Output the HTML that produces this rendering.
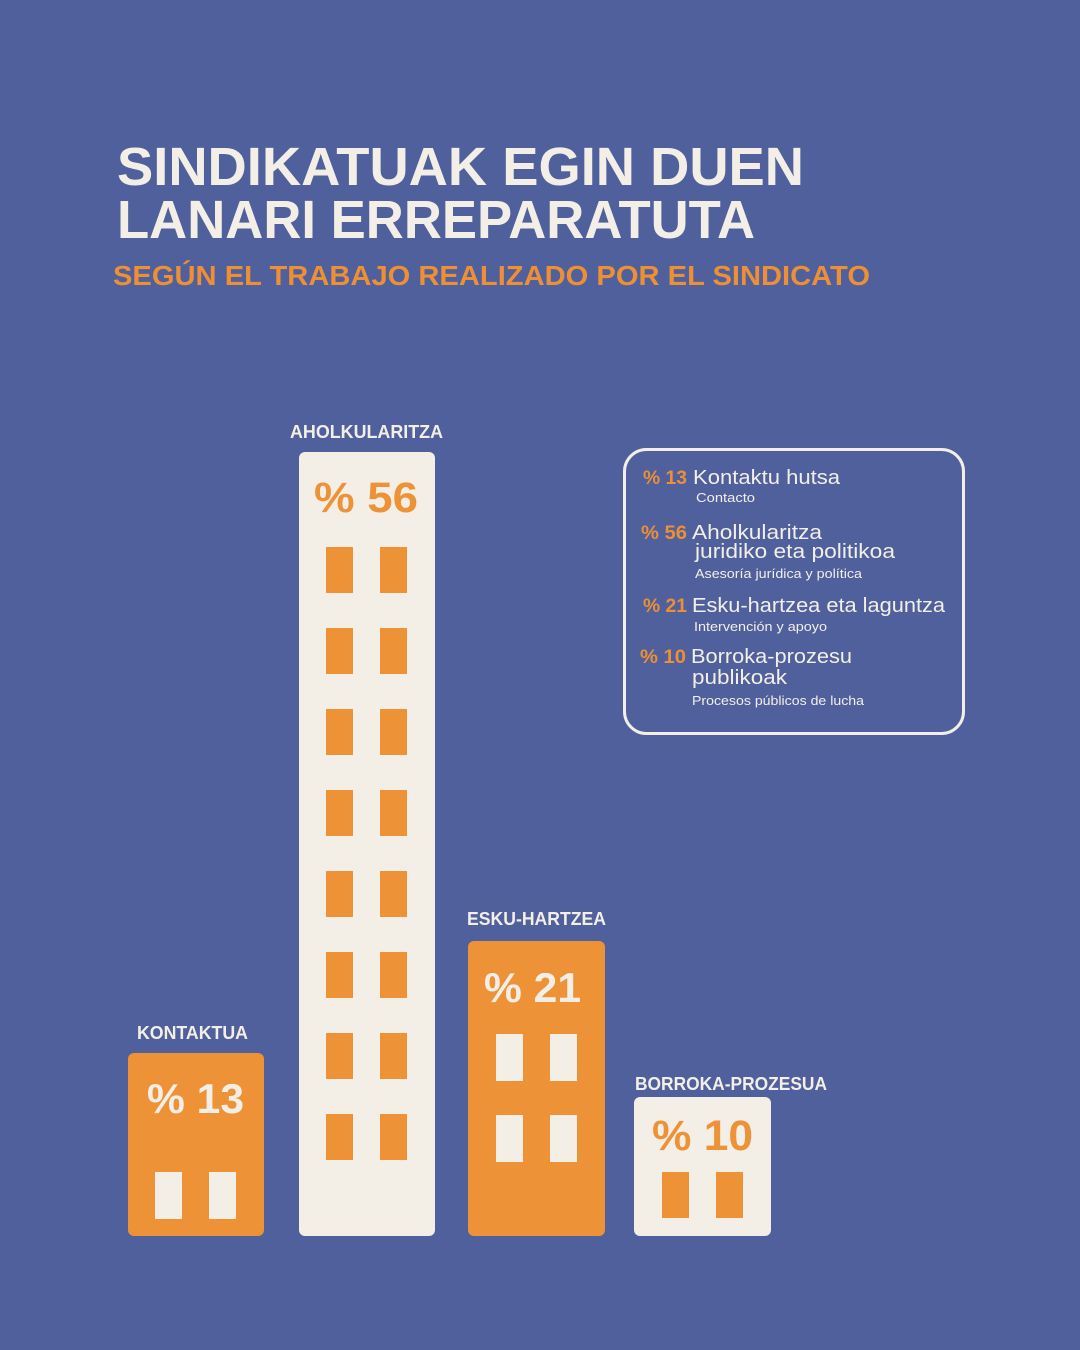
<!DOCTYPE html>
<html>
<head>
<meta charset="utf-8">
<style>
html,body{margin:0;padding:0;background:#4f609d;}
svg{display:block;}
text{font-family:"Liberation Sans",Arial,sans-serif;}
</style>
</head>
<body>
<svg width="1080" height="1350" viewBox="0 0 1080 1350" xmlns="http://www.w3.org/2000/svg">
  <rect x="0" y="0" width="1080" height="1350" fill="#4f609d"/>

  <!-- Title -->
  <text x="117" y="185" font-size="54" font-weight="bold" fill="#f3efe6" textLength="687" lengthAdjust="spacingAndGlyphs">SINDIKATUAK EGIN DUEN</text>
  <text x="117" y="238" font-size="54" font-weight="bold" fill="#f3efe6" textLength="638" lengthAdjust="spacingAndGlyphs">LANARI ERREPARATUTA</text>
  <text x="113" y="285" font-size="28" font-weight="bold" fill="#ec8f35" textLength="757" lengthAdjust="spacingAndGlyphs">SEGÚN EL TRABAJO REALIZADO POR EL SINDICATO</text>

  <!-- Bar labels -->
  <text x="290" y="438" font-size="18" font-weight="bold" fill="#f3efe6" textLength="153" lengthAdjust="spacingAndGlyphs">AHOLKULARITZA</text>
  <text x="467" y="925" font-size="18" font-weight="bold" fill="#f3efe6" textLength="139" lengthAdjust="spacingAndGlyphs">ESKU-HARTZEA</text>
  <text x="137" y="1039" font-size="18" font-weight="bold" fill="#f3efe6" textLength="111" lengthAdjust="spacingAndGlyphs">KONTAKTUA</text>
  <text x="635" y="1090" font-size="18" font-weight="bold" fill="#f3efe6" textLength="192" lengthAdjust="spacingAndGlyphs">BORROKA-PROZESUA</text>

  <!-- Kontaktua bar -->
  <rect x="128" y="1053" width="136" height="183" rx="6" fill="#ee9238"/>
  <text x="147" y="1113" font-size="42" font-weight="bold" fill="#f3efe6" textLength="97" lengthAdjust="spacingAndGlyphs">% 13</text>
  <rect x="155" y="1172" width="27" height="47" fill="#f3efe6"/>
  <rect x="209" y="1172" width="27" height="47" fill="#f3efe6"/>

  <!-- Aholkularitza bar -->
  <rect x="299" y="452" width="136" height="784" rx="6" fill="#f3efe6"/>
  <text x="314" y="512" font-size="43" font-weight="bold" fill="#ee9238" textLength="104" lengthAdjust="spacingAndGlyphs">% 56</text>
  <g fill="#ee9238">
    <rect x="326" y="547" width="27" height="46"/><rect x="380" y="547" width="27" height="46"/>
    <rect x="326" y="628" width="27" height="46"/><rect x="380" y="628" width="27" height="46"/>
    <rect x="326" y="709" width="27" height="46"/><rect x="380" y="709" width="27" height="46"/>
    <rect x="326" y="790" width="27" height="46"/><rect x="380" y="790" width="27" height="46"/>
    <rect x="326" y="871" width="27" height="46"/><rect x="380" y="871" width="27" height="46"/>
    <rect x="326" y="952" width="27" height="46"/><rect x="380" y="952" width="27" height="46"/>
    <rect x="326" y="1033" width="27" height="46"/><rect x="380" y="1033" width="27" height="46"/>
    <rect x="326" y="1114" width="27" height="46"/><rect x="380" y="1114" width="27" height="46"/>
  </g>

  <!-- Esku-hartzea bar -->
  <rect x="468" y="941" width="137" height="295" rx="6" fill="#ee9238"/>
  <text x="484" y="1002" font-size="42" font-weight="bold" fill="#f3efe6" textLength="97" lengthAdjust="spacingAndGlyphs">% 21</text>
  <rect x="496" y="1034" width="27" height="47" fill="#f3efe6"/>
  <rect x="550" y="1034" width="27" height="47" fill="#f3efe6"/>
  <rect x="496" y="1115" width="27" height="47" fill="#f3efe6"/>
  <rect x="550" y="1115" width="27" height="47" fill="#f3efe6"/>

  <!-- Borroka bar -->
  <rect x="634" y="1097" width="137" height="139" rx="6" fill="#f3efe6"/>
  <text x="652" y="1150" font-size="43" font-weight="bold" fill="#ee9238" textLength="101" lengthAdjust="spacingAndGlyphs">% 10</text>
  <rect x="662" y="1172" width="27" height="46" fill="#ee9238"/>
  <rect x="716" y="1172" width="27" height="46" fill="#ee9238"/>

  <!-- Legend box -->
  <rect x="624.5" y="449.5" width="339" height="284" rx="22" fill="none" stroke="#f3efe6" stroke-width="3"/>

  <text x="643" y="484" font-size="19" font-weight="bold" fill="#ec8f35" textLength="44" lengthAdjust="spacingAndGlyphs">% 13</text>
  <text x="693" y="484" font-size="20" fill="#f3efe6" textLength="147" lengthAdjust="spacingAndGlyphs">Kontaktu hutsa</text>
  <text x="696" y="502" font-size="13" fill="#f3efe6" textLength="59" lengthAdjust="spacingAndGlyphs">Contacto</text>

  <text x="641" y="539" font-size="19" font-weight="bold" fill="#ec8f35" textLength="46" lengthAdjust="spacingAndGlyphs">% 56</text>
  <text x="692" y="539" font-size="20" fill="#f3efe6" textLength="130" lengthAdjust="spacingAndGlyphs">Aholkularitza</text>
  <text x="695" y="558" font-size="20" fill="#f3efe6" textLength="200" lengthAdjust="spacingAndGlyphs">juridiko eta politikoa</text>
  <text x="695" y="578" font-size="13" fill="#f3efe6" textLength="167" lengthAdjust="spacingAndGlyphs">Asesoría jurídica y política</text>

  <text x="643" y="612" font-size="19" font-weight="bold" fill="#ec8f35" textLength="44" lengthAdjust="spacingAndGlyphs">% 21</text>
  <text x="692" y="612" font-size="20" fill="#f3efe6" textLength="253" lengthAdjust="spacingAndGlyphs">Esku-hartzea eta laguntza</text>
  <text x="694" y="631" font-size="13" fill="#f3efe6" textLength="133" lengthAdjust="spacingAndGlyphs">Intervención y apoyo</text>

  <text x="640" y="663" font-size="19" font-weight="bold" fill="#ec8f35" textLength="46" lengthAdjust="spacingAndGlyphs">% 10</text>
  <text x="691" y="663" font-size="20" fill="#f3efe6" textLength="161" lengthAdjust="spacingAndGlyphs">Borroka-prozesu</text>
  <text x="692" y="684" font-size="20" fill="#f3efe6" textLength="95" lengthAdjust="spacingAndGlyphs">publikoak</text>
  <text x="692" y="705" font-size="13" fill="#f3efe6" textLength="172" lengthAdjust="spacingAndGlyphs">Procesos públicos de lucha</text>
</svg>
</body>
</html>
